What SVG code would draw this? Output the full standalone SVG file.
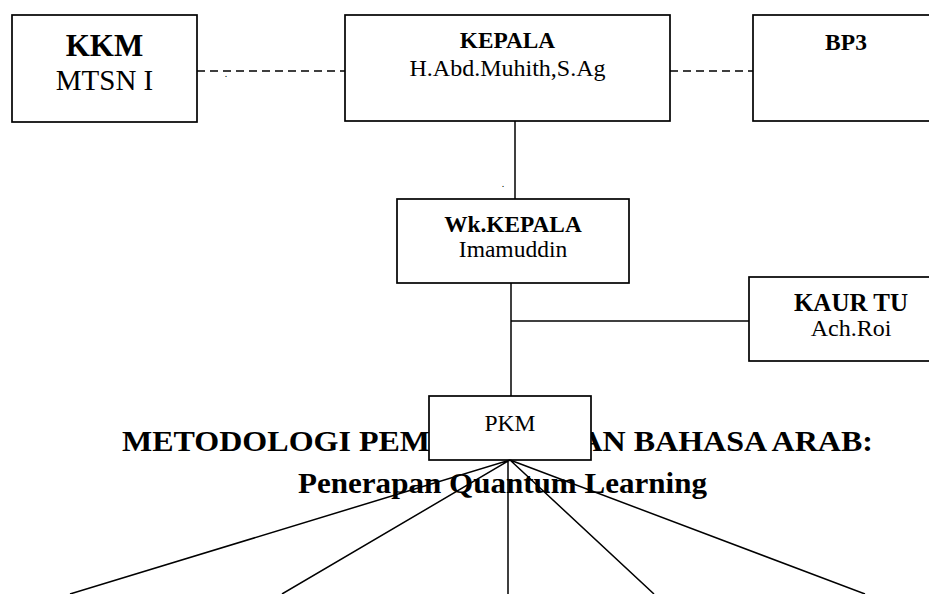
<svg xmlns="http://www.w3.org/2000/svg" width="929" height="594" viewBox="0 0 929 594">
<style>
.box{fill:#fff;stroke:#000;stroke-width:1.7}
.ln{stroke:#000;stroke-width:1.5;fill:none}
.dash{stroke:#000;stroke-width:1.7;stroke-dasharray:8 5;fill:none}
text{font-family:"Liberation Serif","Times New Roman",serif;fill:#000;text-anchor:middle}
.b{font-weight:bold}
.st{text-anchor:start}
</style>
<rect width="929" height="594" fill="#fff"/>
<g id="title">
<text class="b st" x="122" y="451" font-size="30" textLength="751" lengthAdjust="spacingAndGlyphs">METODOLOGI PEMBELAJARAN BAHASA ARAB:</text>
<text class="b st" x="298" y="493" font-size="30" textLength="409" lengthAdjust="spacingAndGlyphs">Penerapan Quantum Learning</text>
</g>
<g id="connectors">
<path class="dash" d="M197 71H345"/>
<path class="dash" d="M670 71H753"/>
<path class="ln" d="M515 121V199"/>
<path class="ln" d="M511 283V396"/>
<path class="ln" d="M511 321H749"/>
</g>
<g id="kkm">
<rect class="box" x="12" y="15" width="185" height="107"/>
<text class="b" x="104.5" y="56" font-size="31">KKM</text>
<text x="104.5" y="90" font-size="29">MTSN I</text>
</g>
<g id="kepala">
<rect class="box" x="345" y="15" width="325" height="106"/>
<text class="b" x="507.5" y="48" font-size="23.3">KEPALA</text>
<text x="507.5" y="76" font-size="24">H.Abd.Muhith,S.Ag</text>
</g>
<g id="bp3">
<rect class="box" x="753" y="15" width="190" height="106"/>
<text class="b" x="846" y="50" font-size="23.5">BP3</text>
</g>
<g id="wkkepala">
<rect class="box" x="397" y="199" width="232" height="84"/>
<text class="b" x="513" y="232" font-size="23.3">Wk.KEPALA</text>
<text x="513" y="257" font-size="23.5">Imamuddin</text>
</g>
<g id="kaurtu">
<rect class="box" x="749" y="277" width="204" height="84"/>
<text class="b" x="851" y="311" font-size="25">KAUR TU</text>
<text x="851" y="336" font-size="24">Ach.Roi</text>
</g>
<g id="pkm">
<rect class="box" x="429" y="396" width="162" height="64"/>
<text x="510" y="431" font-size="23.5">PKM</text>
</g>
<g id="fan">
<path class="ln" d="M510 460L70 594M510 460L282 594M508 460V594M510 460L654 594M510 460L865 594"/>
</g>
<g id="dots">
<text x="226" y="77" font-size="10">.</text>
<text x="503" y="187" font-size="10">.</text>
</g>
</svg>
